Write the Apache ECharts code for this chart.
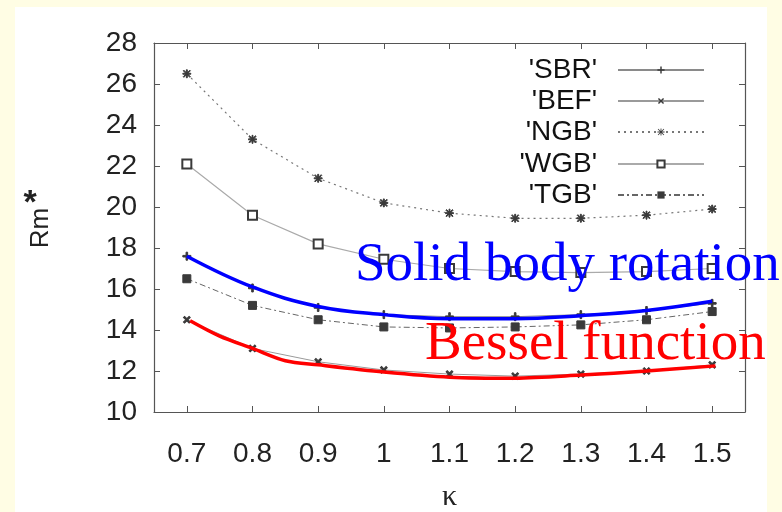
<!DOCTYPE html>
<html>
<head>
<meta charset="utf-8">
<script src="https://cdn.jsdelivr.net/npm/echarts@6/dist/echarts.min.js"></script>
<style>
  html, body { margin: 0; padding: 0; }
  body { width: 782px; height: 512px; background: #fffde4; position: relative; overflow: hidden; }
  #panel { position: absolute; left: 15px; top: 7px; width: 752px; height: 505px; background: #ffffff; }
  #chart { position: absolute; left: 0; top: 0; width: 782px; height: 512px; }
</style>
</head>
<body>
<div id="panel"></div>
<div id="chart"></div>
<script>
// kappa values at which the critical magnetic Reynolds number was computed
const kappa = [0.7, 0.8, 0.9, 1.0, 1.1, 1.2, 1.3, 1.4, 1.5];
const yTicks = [10, 12, 14, 16, 18, 20, 22, 24, 26, 28];

// Rm* for each profile
const sbr = [17.6, 16.05, 15.1, 14.75, 14.65, 14.65, 14.75, 14.95, 15.3];
const bef = [14.5, 13.1, 12.45, 12.05, 11.85, 11.75, 11.85, 12.0, 12.3];
const ngb = [26.5, 23.3, 21.4, 20.2, 19.7, 19.45, 19.45, 19.6, 19.9];
const wgb = [22.1, 19.6, 18.2, 17.45, 17.0, 16.85, 16.8, 16.85, 17.0];
const tgb = [16.5, 15.2, 14.5, 14.15, 14.1, 14.15, 14.25, 14.5, 14.9];

// hand-drawn guide curves
const solidK  = [0.7, 0.8, 0.9, 1.0, 1.1, 1.2, 1.3, 1.4, 1.5];
const solidRm = [17.6, 16.1, 15.15, 14.75, 14.55, 14.55, 14.7, 14.95, 15.4];
const besselK  = [0.705, 0.75, 0.8, 0.85, 0.9, 1.0, 1.1, 1.2, 1.3, 1.4, 1.505];
const besselRm = [14.45, 13.7, 13.1, 12.5, 12.3, 11.95, 11.7, 11.65, 11.8, 12.0, 12.25];

const names = ["'SBR'", "'BEF'", "'NGB'", "'WGB'", "'TGB'"];

function pairs(xs, ys) { return xs.map((x, i) => [x, ys[i]]); }

const plusPath = 'path://M4,0h2v4h4v2h-4v4h-2v-4h-4v-2h4z';
const starPath = 'path://M4.4,0h1.2v4.4h4.4v1.2h-4.4v4.4h-1.2v-4.4h-4.4v-1.2h4.4zM1.3,0.5L9.5,8.7L8.7,9.5L0.5,1.3zM8.7,0.5L9.5,1.3L1.3,9.5L0.5,8.7z';

const chart = echarts.init(document.getElementById('chart'));

const axisGray = '#555555';
const tickFont = { fontFamily: 'Liberation Sans', fontSize: 28, color: '#222222' };

function dataSeries(name, values, symbol, size, line, rotate) {
  return {
    type: 'line', name: name, data: pairs(kappa, values),
    symbol: symbol, symbolSize: size, symbolRotate: rotate || 0,
    lineStyle: line, itemStyle: { color: '#3a3a3a', borderColor: '#3a3a3a' },
    z: 3, animation: false
  };
}

const legendTops = [51, 82, 113, 145, 176];
const legends = names.map((n, i) => ({
  data: [n], right: 72, top: legendTops[i], orient: 'horizontal', align: 'right',
  itemWidth: 86, itemHeight: 9,
  textStyle: { fontFamily: 'Liberation Sans', fontSize: 28, color: '#111', padding: [0, 16, 0, 0] },
  selectedMode: false
}));

chart.setOption({
  animation: false,
  grid: { left: 154, right: 37, top: 43, bottom: 100, show: false, containLabel: false, outerBoundsMode: 'none' },
  legend: legends,
  xAxis: [
    {
      type: 'value', min: 0.65, max: 1.55, position: 'bottom',
      name: 'κ', nameLocation: 'middle', nameGap: 70,
      nameTextStyle: { fontFamily: 'Liberation Serif', fontSize: 30, color: '#222' },
      axisLine: { show: true, lineStyle: { color: axisGray, width: 1.2 } },
      axisTick: { show: true, inside: true, length: 6, customValues: kappa, lineStyle: { color: axisGray } },
      axisLabel: Object.assign({ customValues: kappa, margin: 28, formatter: v => String(v) }, tickFont),
      splitLine: { show: false }
    },
    {
      type: 'value', min: 0.65, max: 1.55, position: 'top',
      axisLine: { show: true, lineStyle: { color: axisGray, width: 1.2 } },
      axisTick: { show: true, inside: true, length: 6, customValues: kappa, lineStyle: { color: axisGray } },
      axisLabel: { show: false }, splitLine: { show: false }
    }
  ],
  yAxis: [
    {
      type: 'value', min: 10, max: 28, interval: 2, position: 'left',
      axisLine: { show: true, lineStyle: { color: axisGray, width: 1.2 } },
      axisTick: { show: true, inside: true, length: 6, lineStyle: { color: axisGray } },
      axisLabel: Object.assign({ margin: 17, customValues: yTicks }, tickFont),
      splitLine: { show: false }
    },
    {
      type: 'value', min: 10, max: 28, interval: 2, position: 'right',
      axisLine: { show: true, lineStyle: { color: axisGray, width: 1.2 } },
      axisTick: { show: true, inside: true, length: 6, lineStyle: { color: axisGray } },
      axisLabel: { show: false }, splitLine: { show: false }
    }
  ],
  graphic: [
    { type: 'text', x: 41, y: 228, rotation: Math.PI / 2,
      style: { text: 'Rm', font: '26px "Liberation Sans"', fill: '#222', align: 'center', verticalAlign: 'middle' } },
    { type: 'text', x: 30, y: 204,
      style: { text: '*', font: 'bold 34px "Liberation Sans"', fill: '#222', align: 'center', verticalAlign: 'middle' } },
    { type: 'text', x: 355, y: 266, z: 10,
      style: { text: 'Solid body rotation', font: '55px "Liberation Serif"', fill: '#0000ff', align: 'left', verticalAlign: 'middle' } },
    { type: 'text', x: 425, y: 345, z: 10,
      style: { text: 'Bessel function', font: '55px "Liberation Serif"', fill: '#ff0000', align: 'left', verticalAlign: 'middle' } }
  ],
  series: [
    dataSeries(names[0], sbr, plusPath, 8, { color: '#8a8a8a', width: 1 }),
    dataSeries(names[1], bef, plusPath, 8, { color: '#9a9a9a', width: 1 }, 45),
    dataSeries(names[2], ngb, starPath, 8, { color: '#777777', width: 1.2, type: [2, 4] }),
    dataSeries(names[3], wgb, 'emptyRect', 9, { color: '#aaaaaa', width: 1.2 }),
    dataSeries(names[4], tgb, 'rect', 8, { color: '#666666', width: 1, type: [6, 3, 2, 3] }),
    {
      type: 'line', name: 'solid', data: pairs(solidK, solidRm), smooth: 0.4,
      symbol: 'none', lineStyle: { color: '#0000ff', width: 3.5 }, z: 5
    },
    {
      type: 'line', name: 'bessel', data: pairs(besselK, besselRm), smooth: 0.3,
      symbol: 'none', lineStyle: { color: '#ff0000', width: 3.5 }, z: 5
    }
  ]
});
</script>
</body>
</html>
